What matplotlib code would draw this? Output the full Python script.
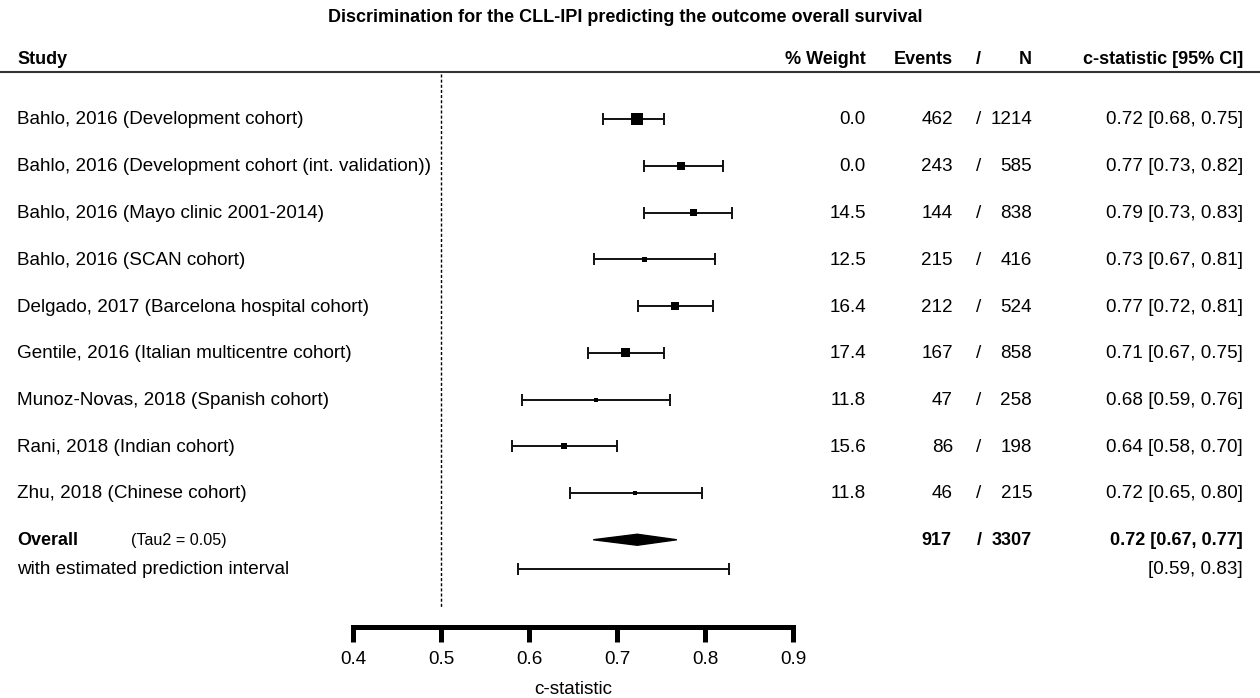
import numpy as np
import matplotlib
matplotlib.use('Agg')
import matplotlib.pyplot as plt
from matplotlib.transforms import blended_transform_factory

# ---- data ----
studies = ['Bahlo, 2016 (Development cohort)',
           'Bahlo, 2016 (Development cohort (int. validation))',
           'Bahlo, 2016 (Mayo clinic 2001-2014)',
           'Bahlo, 2016 (SCAN cohort)',
           'Delgado, 2017 (Barcelona hospital cohort)',
           'Gentile, 2016 (Italian multicentre cohort)',
           'Munoz-Novas, 2018 (Spanish cohort)',
           'Rani, 2018 (Indian cohort)',
           'Zhu, 2018 (Chinese cohort)']
est = [0.723, 0.773, 0.787, 0.731, 0.766, 0.710, 0.676, 0.640, 0.721]
ci_lo = [0.684, 0.731, 0.731, 0.674, 0.724, 0.667, 0.592, 0.581, 0.647]
ci_hi = [0.753, 0.820, 0.831, 0.811, 0.809, 0.753, 0.760, 0.700, 0.797]
weight = ['0.0', '0.0', '14.5', '12.5', '16.4', '17.4', '11.8', '15.6', '11.8']
events = [462, 243, 144, 215, 212, 167, 47, 86, 46]
n_pat = [1214, 585, 838, 416, 524, 858, 258, 198, 215]

overall_est, overall_lo, overall_hi = 0.723, 0.673, 0.768
pi_lo, pi_hi = 0.588, 0.827
tau2 = 0.05
events_total, n_total = 917, 3307

xticks = [0.4, 0.5, 0.6, 0.7, 0.8, 0.9]

# box side (px) as drawn in the reference
box_px = [12, 8, 7, 5, 8, 9, 4, 6, 4]

plt.rcParams['font.family'] = ['Liberation Sans', 'DejaVu Sans']

W, H, DPI = 1260, 698, 100
fig = plt.figure(figsize=(W / DPI, H / DPI), dpi=DPI)
ax = fig.add_axes([0, 0, 1, 1])

# axis scale: 0.4 -> 353 px, 0.9 -> 793 px; rows 46.75 px apart from y=119
px_per_unit = 880.0
x0 = 0.4 - 353 / px_per_unit
x1 = 0.4 + (W - 353) / px_per_unit
row_h = 46.75
ax.set_xlim(x0, x1)
ax.set_ylim((H - 119) / row_h, -119 / row_h)


def row_of(py):
    return (py - 119) / row_h


rows = np.arange(len(studies))
y_overall = len(studies)
y_pi = row_of(569)

fs = 13.6
fs_b = 13.0
tr = blended_transform_factory(ax.transAxes, ax.transData)


def fx(px):
    return px / W


# study rows
ax.errorbar(est, rows, xerr=[np.subtract(est, ci_lo), np.subtract(ci_hi, est)],
            fmt='none', ecolor='#111111', elinewidth=1.4, capsize=4.2,
            capthick=1.4, zorder=2)
ax.scatter(est, rows, marker='s', s=(np.array(box_px) * 0.72) ** 2,
           color='black', linewidths=0, zorder=3)

# summary diamond
dh = 5.5 / row_h
ax.fill([overall_lo, overall_est, overall_hi, overall_est],
        [y_overall, y_overall - dh, y_overall, y_overall + dh],
        color='black', linewidth=1.0, edgecolor='black', zorder=3)

# prediction interval
ax.errorbar([overall_est], [y_pi], xerr=[[overall_est - pi_lo], [pi_hi - overall_est]],
            fmt='none', ecolor='#111111', elinewidth=1.4, capsize=4.2,
            capthick=1.4, zorder=2)

# reference line at 0.5
ax.vlines(0.5, row_of(74), row_of(608), colors='black', linewidth=1.0,
          linestyles=(0, (2.2, 1.5)))

# header line
ax.axhline(row_of(72), color='#333333', linewidth=1.5)

# x axis
for s in ['top', 'left', 'right']:
    ax.spines[s].set_visible(False)
ax.spines['bottom'].set_position(('data', row_of(627)))
ax.spines['bottom'].set_bounds(xticks[0], xticks[-1])
ax.spines['bottom'].set_linewidth(3.6)
ax.set_xticks(xticks)
ax.set_xticklabels([f'{t:.1f}' for t in xticks])
ax.tick_params(axis='x', direction='out', length=10.5, width=3.6,
               labelsize=fs, pad=7)
ax.set_yticks([])
ax.text(0.65, row_of(689), 'c-statistic', ha='center', va='center', fontsize=fs)

# title and headers
ax.text(fx(625), row_of(18), 'Discrimination for the CLL-IPI predicting the outcome overall survival',
        transform=tr, ha='center', va='center', fontsize=fs_b, fontweight='bold')
hy = row_of(59)
ax.text(fx(17), hy, 'Study', transform=tr, ha='left', va='center', fontsize=fs_b, fontweight='bold')
ax.text(fx(866), hy, '% Weight', transform=tr, ha='right', va='center', fontsize=fs_b, fontweight='bold')
ax.text(fx(953), hy, 'Events', transform=tr, ha='right', va='center', fontsize=fs_b, fontweight='bold')
ax.text(fx(978), hy, '/', transform=tr, ha='center', va='center', fontsize=fs_b, fontweight='bold')
ax.text(fx(1032), hy, 'N', transform=tr, ha='right', va='center', fontsize=fs_b, fontweight='bold')
ax.text(fx(1243), hy, 'c-statistic [95% CI]', transform=tr, ha='right', va='center',
        fontsize=fs_b, fontweight='bold')

# row texts
for i, name in enumerate(studies):
    yy = i + 1 / row_h
    ax.text(fx(17), yy, name, transform=tr, ha='left', va='center', fontsize=fs)
    ax.text(fx(866), yy, weight[i], transform=tr, ha='right', va='center', fontsize=fs)
    ax.text(fx(953), yy, str(events[i]), transform=tr, ha='right', va='center', fontsize=fs)
    ax.text(fx(979), yy, '/', transform=tr, ha='center', va='center', fontsize=fs)
    ax.text(fx(1032), yy, str(n_pat[i]), transform=tr, ha='right', va='center', fontsize=fs)
    ax.text(fx(1243), yy, f'{est[i]:.2f} [{ci_lo[i]:.2f}, {ci_hi[i]:.2f}]', transform=tr,
            ha='right', va='center', fontsize=fs)

# overall row
yo = y_overall + 1 / row_h
ax.text(fx(17), yo, 'Overall', transform=tr, ha='left', va='center',
        fontsize=fs_b, fontweight='bold')
ax.text(fx(131), yo, f'(Tau2 = {tau2:.2f})', transform=tr, ha='left', va='center',
        fontsize=11.6)
ax.text(fx(951), yo, str(events_total), transform=tr, ha='right', va='center',
        fontsize=fs_b, fontweight='bold')
ax.text(fx(979), yo, '/', transform=tr, ha='center', va='center',
        fontsize=fs_b, fontweight='bold')
ax.text(fx(1032), yo, str(n_total), transform=tr, ha='right', va='center',
        fontsize=fs_b, fontweight='bold')
ax.text(fx(1243), yo, f'{overall_est:.2f} [{overall_lo:.2f}, {overall_hi:.2f}]',
        transform=tr, ha='right', va='center', fontsize=fs_b, fontweight='bold')
ax.text(fx(17), y_pi + 1 / row_h, 'with estimated prediction interval', transform=tr, ha='left',
        va='center', fontsize=fs)
ax.text(fx(1243), y_pi + 1 / row_h, f'[{pi_lo:.2f}, {pi_hi:.2f}]', transform=tr, ha='right',
        va='center', fontsize=fs)

fig.savefig('out.png', dpi=DPI)
